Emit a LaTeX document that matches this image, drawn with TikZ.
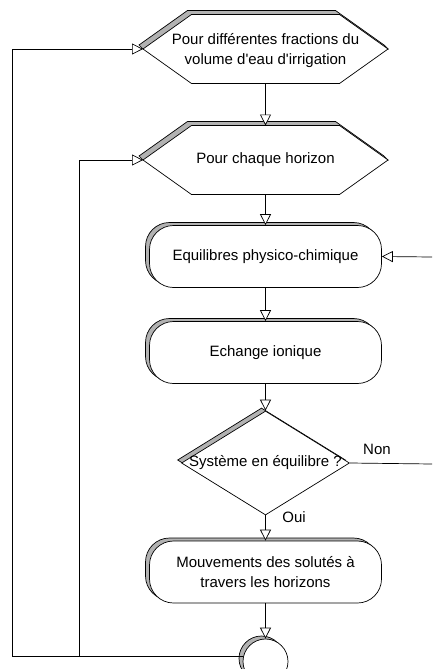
\documentclass[tikz,border=0pt]{standalone}
\usepackage{fontspec}
\setmainfont{Liberation Sans}[Ligatures=TeXOff]
\usetikzlibrary{arrows.meta,shapes.geometric,shadows}

\tikzset{
  flow/.style={-{Triangle[length=11pt,width=11pt,fill=white]}},
  relief/.style={general shadow={shadow xshift=-4pt,shadow yshift=3pt,fill=black!30,draw=black}},
  task/.style={draw,fill=white,relief,rounded corners=24pt,minimum width=232pt,minimum height=62pt,align=center},
  test/.style={draw,fill=white,relief,diamond,minimum width=168pt,minimum height=104pt,inner sep=0pt},
  joint/.style={draw,fill=white,relief,circle,minimum size=45pt,inner sep=0pt},
}

\begin{document}
\begin{tikzpicture}[x=1pt,y=-1pt,line width=0.7pt,font=\fontsize{15}{20.5}\selectfont]

\useasboundingbox (0,0) rectangle (432,669);

% boucles "pour"
\foreach \n/\cy in {hexA/49,hexB/160}{
  \begin{scope}[shift={(265.5,\cy)}]
    \draw[fill=black!30] (-122.5,0) -- (-126.5,-4) -- (-78,-38.5) -- (70,-38.5) -- (118.5,-4) -- (122.5,0) -- cycle;
    \draw[fill=white] (-122.5,0) -- (-74,-34.5) -- (74,-34.5) -- (122.5,0) -- (74,34.5) -- (-74,34.5) -- cycle;
    \coordinate (\n-w) at (-122.5,0);
    \coordinate (\n-n) at (0,-34.5);
    \coordinate (\n-s) at (0,34.5);
  \end{scope}
}
\node[align=center] (hexAtxt) at (265.5,50.5) {Pour différentes fractions du\\volume d'eau d'irrigation};
\node (hexBtxt) at (265.5,160) {Pour chaque horizon};

\node[task] (equil) at (265.5,256.5) {Equilibres physico-chimique};
\node[task] (echange) at (265.5,352.5) {Echange ionique};
\node[test] (eqtest) at (265.5,463) {};
\node (eqtxt) at (265.5,463) {Système en équilibre ?};
\node[task] (mouv) at (265.5,572) {Mouvements des solutés à\\travers les horizons};
\node[joint] (joint) at (265.5,661.5) {};

\node (non) at (377,449) {Non};
\node (oui) at (294,517) {Oui};

\coordinate (back) at (432,257);
\coordinate (nonEnd) at (432,464);
\coordinate (loopA) at (12,49);
\coordinate (loopB) at (79,160);

\draw[flow] (hexA-s) -- (hexB-n);
\draw[flow] (hexB-s) -- (equil.north);
\draw[flow] (equil.south) -- (echange.north);
\draw[flow] (echange.south) -- (eqtest.north);
\draw[flow] (eqtest.south) -- (mouv.north);
\draw[flow] (mouv.south) -- (joint.north);
\draw (eqtest.east) -- (nonEnd);
\draw[flow] (back) -- (equil.east);
\draw[flow] (joint.168) -| (loopA) -- (hexA-w);
\draw[flow] (joint.168) -| (loopB) -- (hexB-w);

\end{tikzpicture}
\end{document}
